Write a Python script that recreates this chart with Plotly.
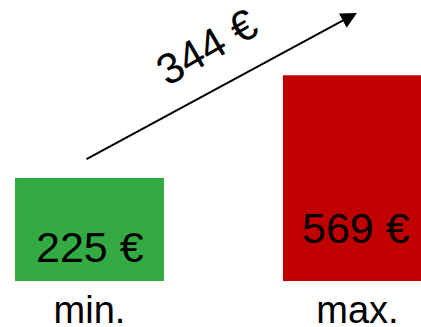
import plotly.graph_objects as go

# Price range: cheapest vs. most expensive offer
categories = ["min.", "max."]
prices = [225, 569]
bar_colors = ["#33AB42", "#C00000"]
floor = -120  # common bar base below the axis origin

spread = prices[1] - prices[0]
FONT = "Liberation Sans, Arial, sans-serif"

fig = go.Figure()
fig.add_trace(go.Bar(
    x=[0, 1],
    y=[p - floor for p in prices],
    base=[floor, floor],
    width=0.556,
    marker=dict(color=bar_colors, line=dict(width=0)),
    hoverinfo="skip",
))

# value labels inside the bars
label_pos = [(0.0, -6), (0.995, 57.5)]
for (lx, ly), p in zip(label_pos, prices):
    fig.add_annotation(x=lx, y=ly, text=f"{p} €", showarrow=False,
                       font=dict(family=FONT, size=43, color="black"),
                       xanchor="center", yanchor="middle")

# arrow from the low price towards the high price
fig.add_annotation(x=0.998, y=777.7, ax=-0.0168, ay=285.3,
                   xref="x", yref="y", axref="x", ayref="y",
                   text="", showarrow=True, arrowhead=2, arrowsize=1.6,
                   arrowwidth=2, arrowcolor="black", standoff=0)
fig.add_annotation(x=0.437, y=663, text=f"{spread} €", showarrow=False,
                   textangle=-30,
                   font=dict(family=FONT, size=43, color="black"),
                   xanchor="center", yanchor="middle")

fig.update_layout(
    width=421, height=327,
    margin=dict(l=0, r=0, t=0, b=46),
    paper_bgcolor="white", plot_bgcolor="white",
    showlegend=False,
    xaxis=dict(range=[-0.334, 1.237], tickvals=[0, 1], ticktext=categories,
               showgrid=False, zeroline=False, showline=False, ticks="",
               automargin=False, ticklabelstandoff=3,
               tickfont=dict(family=FONT, size=38, color="black")),
    yaxis=dict(range=[floor, 821.2], visible=False, showgrid=False,
               zeroline=False),
)

fig.write_html("out.html")
